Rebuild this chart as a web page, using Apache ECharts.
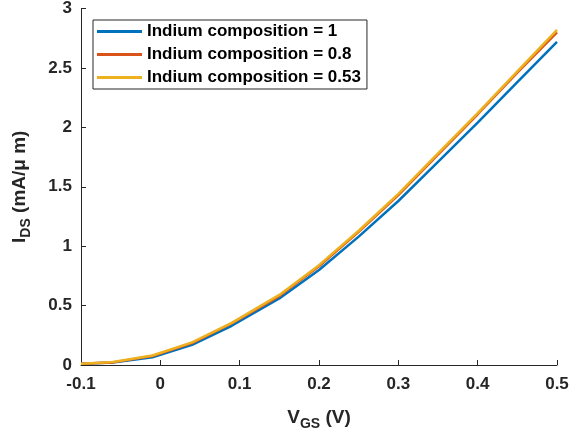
<!DOCTYPE html>
<html>
<head>
<meta charset="utf-8">
<script src="https://cdn.jsdelivr.net/npm/echarts@6/dist/echarts.min.js"></script>
<style>html,body{margin:0;padding:0;background:#fff;}#c{width:572px;height:438px;}</style>
</head>
<body>
<div id="c"></div>
<script>
var vgs = [-0.1, -0.06, -0.01, 0.04, 0.09, 0.15, 0.2, 0.25, 0.3, 0.35, 0.4, 0.45, 0.5];
var ids_in1 = [0.01, 0.02, 0.065, 0.17, 0.33, 0.56, 0.80, 1.08, 1.38, 1.71, 2.04, 2.38, 2.72];
var ids_in08 = [0.01, 0.022, 0.075, 0.185, 0.35, 0.58, 0.83, 1.12, 1.43, 1.77, 2.11, 2.46, 2.80];
var ids_in053 = [0.01, 0.025, 0.08, 0.19, 0.355, 0.59, 0.84, 1.13, 1.44, 1.78, 2.12, 2.47, 2.82];
var seriesNames = ['Indium composition = 1', 'Indium composition = 0.8', 'Indium composition = 0.53'];
var colors = ['#0072BD', '#D95319', '#EDB120'];

function pairs(ys) { return vgs.map(function (v, i) { return [v, ys[i]]; }); }
var allData = [ids_in1, ids_in08, ids_in053];

var chart = echarts.init(document.getElementById('c'));
var axisColor = '#262626';
var FF = 'Liberation Sans, Arial, sans-serif';
chart.setOption({
  animation: false,
  color: colors,
  grid: { left: 81, right: 15, top: 8, bottom: 73, containLabel: false },
  legend: {
    orient: 'vertical',
    left: 93, top: 20,
    icon: 'path://M0 0H45V3H0Z',
    itemWidth: 45, itemHeight: 3, itemGap: 6,
    padding: [3, 6, 3, 4],
    borderColor: '#262626', borderWidth: 1, backgroundColor: '#fff',
    textStyle: { fontFamily: FF, fontWeight: 'bold', fontSize: 17, color: '#000' },
    data: seriesNames
  },
  xAxis: {
    type: 'value', min: -0.1, max: 0.5, interval: 0.1,
    axisLine: { onZero: false, lineStyle: { color: axisColor } },
    axisTick: { inside: true, length: 5, lineStyle: { color: axisColor } },
    splitLine: { show: false },
    axisLabel: { color: '#262626', fontFamily: FF, fontWeight: 'bold', fontSize: 17, margin: 11,
      formatter: function (v) { return String(Math.round(v * 10) / 10); } },
    name: '{a|V}{b|GS}{a| (V)}', nameLocation: 'middle', nameGap: 39,
    nameTextStyle: { rich: {
      a: { fontFamily: FF, fontWeight: 'bold', fontSize: 19, color: '#262626' },
      b: { fontFamily: FF, fontWeight: 'bold', fontSize: 14, color: '#262626', padding: [13, 0, 0, 0] }
    } }
  },
  yAxis: {
    type: 'value', min: 0, max: 3, interval: 0.5,
    axisLine: { show: true, onZero: false, lineStyle: { color: axisColor } },
    axisTick: { show: true, inside: true, length: 5, lineStyle: { color: axisColor } },
    splitLine: { show: false },
    axisLabel: { color: '#262626', fontFamily: FF, fontWeight: 'bold', fontSize: 17, margin: 9 },
    name: '{a|I}{b|DS}{a| (mA/μ m)}', nameLocation: 'middle', nameGap: 48, nameRotate: 90,
    nameTextStyle: { rich: {
      a: { fontFamily: FF, fontWeight: 'bold', fontSize: 19, color: '#262626' },
      b: { fontFamily: FF, fontWeight: 'bold', fontSize: 14, color: '#262626', padding: [13, 0, 0, 0] }
    } }
  },
  series: allData.map(function (d, i) {
    return {
      name: seriesNames[i], type: 'line', data: pairs(d), symbol: 'none',
      lineStyle: { width: 2.5, color: colors[i] }, itemStyle: { color: colors[i] }
    };
  })
});
</script>
</body>
</html>
